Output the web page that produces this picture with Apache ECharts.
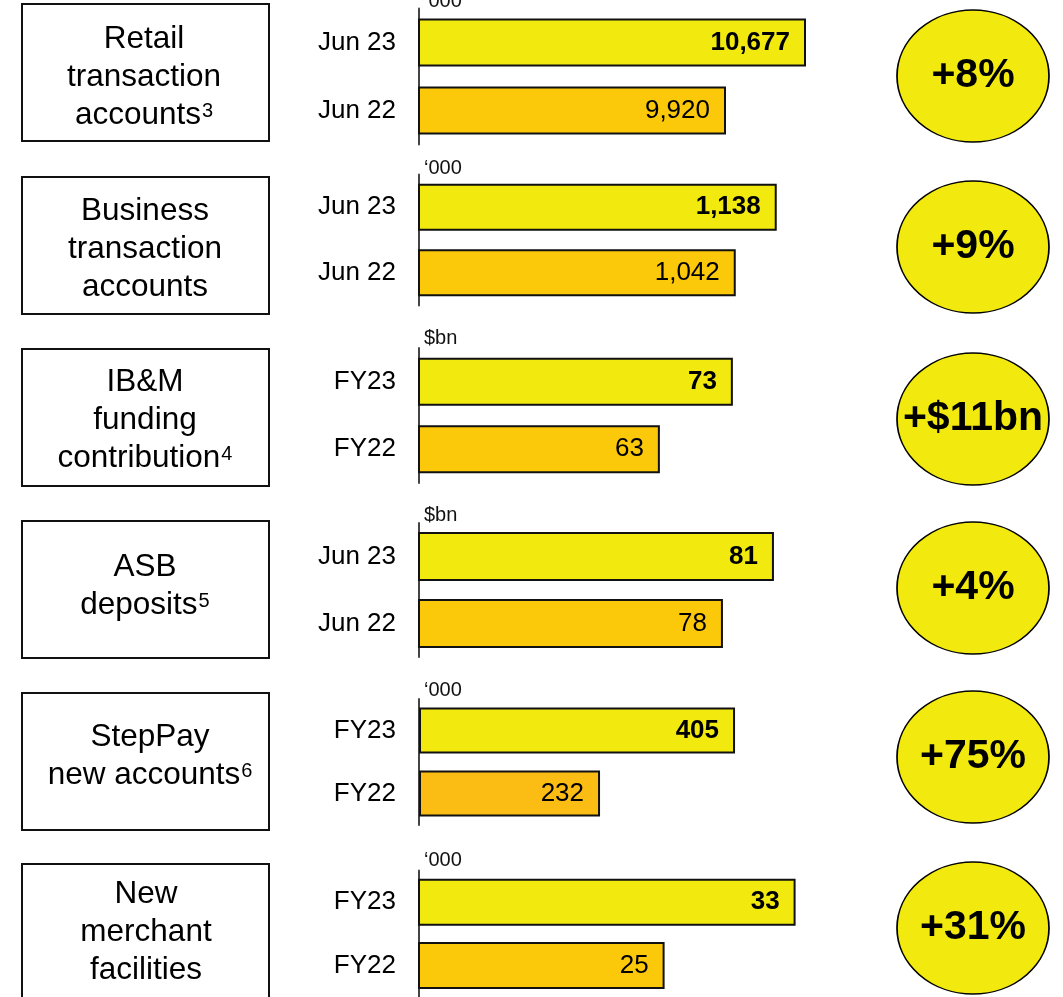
<!DOCTYPE html>
<html>
<head>
<meta charset="utf-8">
<script src="https://cdn.jsdelivr.net/npm/echarts@6.0.0/dist/echarts.min.js"></script>
<style>
  html, body { margin: 0; padding: 0; background: #fff; }
  #main { width: 1063px; height: 997px; }
</style>
</head>
<body>
<div id="main"></div>
<script>
// data
var panelTitles = [
  ['Retail', 'transaction', 'accounts{sup|3}'],
  ['Business', 'transaction', 'accounts'],
  ['IB&M', 'funding', 'contribution{sup|4}'],
  ['ASB', 'deposits{sup|5}'],
  ['StepPay', 'new accounts{sup|6}'],
  ['New', 'merchant', 'facilities']
];
var periods = [
  ['Jun 23', 'Jun 22'],
  ['Jun 23', 'Jun 22'],
  ['FY23', 'FY22'],
  ['Jun 23', 'Jun 22'],
  ['FY23', 'FY22'],
  ['FY23', 'FY22']
];
var currentValues = [10677, 1138, 73, 81, 405, 33];
var priorValues = [9920, 1042, 63, 78, 232, 25];
var units = ['\u2018000', '\u2018000', '$bn', '$bn', '\u2018000', '\u2018000'];
var changes = ['+8%', '+9%', '+$11bn', '+4%', '+75%', '+31%'];

// each panel has its own (truncated) scale on the slide
var scaleMin = [7015, 300, 30, 60.12, 0, 10];
var scaleMax = [10800, 1237, 84.8, 83.65, 512.6, 34.43];

// layout
var gridTop = [8.5, 174.5, 348, 523, 699, 870.5];
var gridHeight = [136, 131, 135, 134, 126, 130];
var barWidth = [48, 47, 48, 49, 46, 47];
var boxTop = [4, 177, 349, 521, 693, 864];
var textY = [77, 249.5, 420, 586.5, 756.5, 932.5];
var textX = [144, 145, 145, 145, 150, 146];
var unitY = [1, 168, 338, 515, 690, 860];
var bubbleY = [76, 247, 419, 588, 757, 928];

var FONT = '"Liberation Sans", Arial, sans-serif';
var YELLOW = '#F2EA0E';
var ORANGE = ['#FCC80A', '#FCC80A', '#FCC80A', '#FCC80A', '#FBBC14', '#FCC80A'];

function fmt(v) {
  return String(v).replace(/\B(?=(\d{3})+(?!\d))/g, ',');
}

var grids = [], xAxes = [], yAxes = [], series = [], graphics = [];

for (var i = 0; i < currentValues.length; i++) {
  grids.push({ left: 419, width: 400, top: gridTop[i], height: gridHeight[i] });
  xAxes.push({
    type: 'value', gridIndex: i, show: false,
    min: scaleMin[i], max: scaleMax[i]
  });
  yAxes.push({
    type: 'category', gridIndex: i, inverse: true,
    data: periods[i],
    axisLine: { show: true, lineStyle: { color: '#444', width: 2 } },
    axisTick: { show: false },
    axisLabel: { margin: 23, fontSize: 26, color: '#000', fontFamily: FONT }
  });
  series.push({
    type: 'bar', xAxisIndex: i, yAxisIndex: i,
    barWidth: barWidth[i],
    label: {
      show: true, position: 'insideRight', distance: 16,
      fontSize: 26, color: '#000', fontFamily: FONT,
      formatter: function (p) { return fmt(p.value); }
    },
    data: [
      {
        value: currentValues[i],
        itemStyle: { color: YELLOW, borderColor: '#111', borderWidth: 2 },
        label: { fontWeight: 'bold' }
      },
      {
        value: priorValues[i],
        itemStyle: { color: ORANGE[i], borderColor: '#111', borderWidth: 2 }
      }
    ]
  });

  // left label box
  graphics.push({
    type: 'rect',
    shape: { x: 22, y: boxTop[i], width: 247, height: 137 },
    style: { fill: '#fff', stroke: '#111', lineWidth: 2 }
  });
  graphics.push({
    type: 'text', x: textX[i], y: textY[i],
    style: {
      text: panelTitles[i].join('\n'),
      fontSize: 31.5, fontFamily: FONT, fill: '#000',
      align: 'center', verticalAlign: 'middle', lineHeight: 38,
      rich: {
        sup: { fontSize: 20, fontFamily: FONT, fill: '#000', verticalAlign: 'top', padding: [5, 0, 0, 1] }
      }
    }
  });

  // unit above the axis
  graphics.push({
    type: 'text', x: 424, y: unitY[i],
    style: {
      text: units[i], fontSize: 20, fontFamily: FONT, fill: '#111',
      align: 'left', verticalAlign: 'middle'
    }
  });

  // growth bubble
  graphics.push({
    type: 'circle', x: 973, y: bubbleY[i], scaleX: 76 / 66,
    shape: { cx: 0, cy: 0, r: 66 },
    style: { fill: YELLOW, stroke: '#000', lineWidth: 1.5 }
  });
  graphics.push({
    type: 'text', x: 973, y: bubbleY[i],
    style: {
      text: changes[i], fontSize: 41, fontWeight: 'bold', fontFamily: FONT,
      fill: '#000', align: 'center', verticalAlign: 'middle'
    }
  });
}

var chart = echarts.init(document.getElementById('main'), null, { renderer: 'canvas' });
chart.setOption({
  animation: false,
  backgroundColor: '#fff',
  grid: grids,
  xAxis: xAxes,
  yAxis: yAxes,
  series: series,
  graphic: graphics
});
</script>
</body>
</html>
